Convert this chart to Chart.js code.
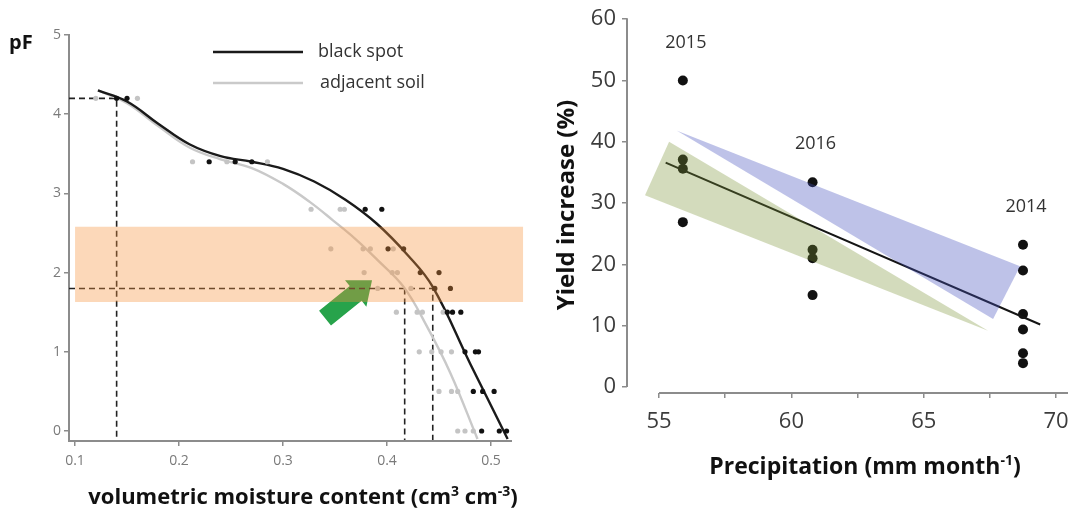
<!DOCTYPE html>
<html>
<head>
<meta charset="utf-8">
<script src="https://cdn.jsdelivr.net/npm/chart.js@4.4.1/dist/chart.umd.min.js"></script>
<style>
  html, body { margin: 0; padding: 0; background: #ffffff; }
  #wrap { position: relative; width: 1075px; height: 515px; overflow: hidden; background: #fff; }
  #retention { position: absolute; left: 0; top: 0; }
  #yield { position: absolute; left: 540px; top: 0; }
</style>
</head>
<body>
<div id="wrap">
  <canvas id="retention" width="540" height="515"></canvas>
  <canvas id="yield" width="535" height="515"></canvas>
</div>
<script>
// ---------- Soil water retention (left panel) ----------
const pfTicks = [0, 1, 2, 3, 4, 5];
const moistureTicks = [0.1, 0.2, 0.3, 0.4, 0.5];

// fitted retention curves (volumetric moisture, pF)
const blackSpotCurveX = [0.122, 0.15, 0.18, 0.21, 0.24, 0.27, 0.30, 0.33, 0.36, 0.39, 0.42, 0.444, 0.48, 0.516];
const blackSpotCurveY = [4.30, 4.16, 3.88, 3.62, 3.47, 3.40, 3.31, 3.15, 2.92, 2.62, 2.22, 1.82, 0.85, -0.10];
const adjacentCurveX  = [0.122, 0.15, 0.18, 0.21, 0.24, 0.27, 0.30, 0.326, 0.348, 0.37, 0.39, 0.416, 0.438, 0.461, 0.487];
const adjacentCurveY  = [4.30, 4.14, 3.85, 3.58, 3.43, 3.32, 3.12, 2.89, 2.66, 2.42, 2.17, 1.82, 1.33, 0.73, -0.10];

// measured samples
const blackSpotDotPF    = [4.2, 4.2, 3.4, 3.4, 3.4, 2.8, 2.8, 2.3, 2.3, 2.0, 2.0, 1.8, 1.8, 1.5, 1.5, 1.5, 1.0, 1.0, 1.0, 0.5, 0.5, 0.5, 0, 0, 0];
const blackSpotDotTheta = [0.14, 0.15, 0.229, 0.254, 0.27, 0.379, 0.395, 0.401, 0.416, 0.432, 0.45, 0.446, 0.461, 0.458, 0.463, 0.471, 0.475, 0.485, 0.488, 0.483, 0.492, 0.503, 0.491, 0.508, 0.515];
const adjacentDotPF     = [4.2, 4.2, 3.4, 3.4, 3.4, 2.8, 2.8, 2.8, 2.3, 2.3, 2.3, 2.3, 2.0, 2.0, 2.0, 1.8, 1.8, 1.5, 1.5, 1.5, 1.5, 1.0, 1.0, 1.0, 1.0, 0.5, 0.5, 0.5, 0, 0, 0];
const adjacentDotTheta  = [0.12, 0.16, 0.213, 0.246, 0.285, 0.327, 0.355, 0.359, 0.346, 0.377, 0.384, 0.406, 0.378, 0.405, 0.41, 0.391, 0.423, 0.409, 0.429, 0.434, 0.454, 0.431, 0.443, 0.452, 0.462, 0.45, 0.462, 0.468, 0.468, 0.475, 0.483];

// reference levels
const wiltingPF = 4.2, wiltingTheta = 0.14;
const fieldCapPF = 1.8, fieldCapThetaAdjacent = 0.417, fieldCapThetaBlack = 0.444;
const bandPF = [1.63, 2.58];          // highlighted pF range
const bandTheta = [0.1, 0.531];
const arrowFrom = [0.3404, 1.425], arrowTo = [0.3856, 1.904];

const thetaMin = 0.0942, thetaMax = 0.5327, thetaAxisEnd = 0.5202;
const pfMin = -0.126, pfMax = 5;

// ---------- Yield vs precipitation (right panel) ----------
const precipTicks = [55, 57.5, 60, 62.5, 65, 67.5, 70];
const yieldTicks = [0, 10, 20, 30, 40, 50, 60];
const years = ['2015', '2016', '2014'];
const precipitation = [55.9, 60.8, 68.75];
const yield2015 = [50.0, 37.1, 35.6, 26.9];
const yield2016 = [33.4, 22.4, 21.0, 15.0];
const yield2014 = [23.2, 19.0, 11.9, 9.4, 5.5, 3.9];
const regressionX = [55.25, 69.4];
const regressionY = [36.6, 10.2];
const greenBandX = [54.47, 55.38, 67.43, 54.47];
const greenBandY = [31.3, 40.0, 9.2, 31.3];
const blueBandX = [55.68, 68.64, 67.62, 55.68];
const blueBandY = [41.8, 19.7, 11.1, 41.8];

const precipMin = 53.79, precipMax = 70.45, precipAxisStart = 55;
const yieldMin = -0.97, yieldMax = 60;

// ---------- helpers ----------
const FONT = "'Open Sans', 'DejaVu Sans', sans-serif";
Chart.defaults.font.family = FONT;
Chart.defaults.animation = false;
const pts = (xs, ys) => xs.map((x, i) => ({ x, y: ys[i] }));

function drawRich(ctx, parts, cx, cy, size, weight, color) {
  const fontOf = sup => `${weight} ${sup ? Math.round(size * 0.62) : size}px ${FONT}`;
  let total = 0;
  parts.forEach(([t, sup]) => { ctx.font = fontOf(sup); total += ctx.measureText(t).width; });
  let x = cx - total / 2;
  ctx.fillStyle = color;
  ctx.textAlign = 'left';
  ctx.textBaseline = 'alphabetic';
  parts.forEach(([t, sup]) => {
    ctx.font = fontOf(sup);
    ctx.fillText(t, x, sup ? cy - size * 0.38 : cy);
    x += ctx.measureText(t).width;
  });
}

// keep the plot area fixed regardless of tick label overhang
const fixSide = (s, h) => { s.height = h; s.paddingLeft = 0; s.paddingRight = 0; };

const hiddenLine = { pointRadius: 0, borderWidth: 0, showLine: true };

// ---------- left chart ----------
const retentionDecor = {
  id: 'retentionDecor',
  beforeDatasetsDraw(chart) {
    const { ctx, scales: { x, y } } = chart;
    // green arrow pointing at the field-capacity region
    const tx = x.getPixelForValue(arrowFrom[0]), ty = y.getPixelForValue(arrowFrom[1]);
    const hx = x.getPixelForValue(arrowTo[0]), hy = y.getPixelForValue(arrowTo[1]);
    const len = Math.hypot(hx - tx, hy - ty);
    const dx = (hx - tx) / len, dy = (hy - ty) / len;
    const nx = -dy, ny = dx;
    const shaft = 9.5, head = 17, headLen = 21;
    const bx = hx - dx * headLen, by = hy - dy * headLen;
    ctx.save();
    ctx.beginPath();
    ctx.moveTo(tx + nx * shaft, ty + ny * shaft);
    ctx.lineTo(bx + nx * shaft, by + ny * shaft);
    ctx.lineTo(bx + nx * head, by + ny * head);
    ctx.lineTo(hx, hy);
    ctx.lineTo(bx - nx * head, by - ny * head);
    ctx.lineTo(bx - nx * shaft, by - ny * shaft);
    ctx.lineTo(tx - nx * shaft, ty - ny * shaft);
    ctx.closePath();
    ctx.fillStyle = '#27a34b';
    ctx.fill();
    ctx.restore();
  },
  afterDraw(chart) {
    const { ctx, scales: { x, y }, chartArea } = chart;
    ctx.save();
    // x axis line
    ctx.strokeStyle = '#8c8c8c';
    ctx.lineWidth = 2;
    ctx.beginPath();
    ctx.moveTo(x.getPixelForValue(thetaMin) - 1, chartArea.bottom);
    ctx.lineTo(x.getPixelForValue(thetaAxisEnd), chartArea.bottom);
    ctx.stroke();
    // legend
    ctx.lineWidth = 2.5;
    ctx.strokeStyle = '#1a1a1a';
    ctx.beginPath(); ctx.moveTo(213, 52); ctx.lineTo(303, 52); ctx.stroke();
    ctx.strokeStyle = '#cacaca';
    ctx.beginPath(); ctx.moveTo(213, 83); ctx.lineTo(303, 83); ctx.stroke();
    ctx.fillStyle = '#333';
    ctx.font = `18px ${FONT}`;
    ctx.textBaseline = 'middle';
    ctx.textAlign = 'left';
    ctx.fillText('black spot', 318, 52);
    ctx.fillText('adjacent soil', 320, 83);
    // axis titles
    ctx.fillStyle = '#111';
    ctx.font = `bold 20px ${FONT}`;
    ctx.fillText('pF', 9, 43);
    drawRich(ctx, [['volumetric moisture content (cm', false], ['3', true], [' cm', false], ['-3', true], [')', false]],
      303, 504, 22, 'bold', '#111');
    ctx.restore();
  }
};

new Chart(document.getElementById('retention'), {
  type: 'line',
  data: {
    datasets: [
      Object.assign({ label: 'band top', data: pts(bandTheta, [bandPF[1], bandPF[1]]), fill: '+1',
        backgroundColor: 'rgba(246,146,61,0.36)', order: -2, clip: false }, hiddenLine),
      Object.assign({ label: 'band bottom', data: pts(bandTheta, [bandPF[0], bandPF[0]]), fill: false,
        order: -1, clip: false }, hiddenLine),
      { label: 'black spot', data: pts(blackSpotCurveX, blackSpotCurveY), borderColor: '#1a1a1a', borderWidth: 2.4,
        pointRadius: 0, tension: 0.4, fill: false, order: 3 },
      { label: 'adjacent soil', data: pts(adjacentCurveX, adjacentCurveY), borderColor: '#c9c9c9', borderWidth: 2.4,
        pointRadius: 0, tension: 0.4, fill: false, order: 4 },
      { label: 'black spot samples', data: pts(blackSpotDotTheta, blackSpotDotPF), showLine: false,
        pointRadius: 2.6, pointBackgroundColor: '#111', pointBorderWidth: 0, order: 1 },
      { label: 'adjacent soil samples', data: pts(adjacentDotTheta, adjacentDotPF), showLine: false,
        pointRadius: 2.6, pointBackgroundColor: '#c4c4c4', pointBorderWidth: 0, order: 2 },
      { label: 'wilting point', data: [{ x: thetaMin, y: wiltingPF }, { x: wiltingTheta, y: wiltingPF }, { x: wiltingTheta, y: pfMin }],
        borderColor: '#222', borderWidth: 1.6, borderDash: [6, 4], pointRadius: 0, fill: false, order: 5, tension: 0 },
      { label: 'field capacity', data: [{ x: thetaMin, y: fieldCapPF }, { x: fieldCapThetaBlack, y: fieldCapPF }, { x: fieldCapThetaBlack, y: pfMin }],
        borderColor: '#222', borderWidth: 1.6, borderDash: [6, 4], pointRadius: 0, fill: false, order: 5, tension: 0 },
      { label: 'field capacity adjacent', data: [{ x: fieldCapThetaAdjacent, y: fieldCapPF }, { x: fieldCapThetaAdjacent, y: pfMin }],
        borderColor: '#222', borderWidth: 1.6, borderDash: [6, 4], pointRadius: 0, fill: false, order: 5, tension: 0 }
    ]
  },
  options: {
    responsive: false,
    animation: false,
    layout: { padding: { left: 0, right: 540 - 525, top: 35, bottom: 0 } },
    plugins: { legend: { display: false }, tooltip: { enabled: false } },
    scales: {
      x: {
        type: 'linear', min: thetaMin, max: thetaMax,
        afterFit: s => fixSide(s, 74),
        afterBuildTicks: s => { s.ticks = moistureTicks.map(v => ({ value: v })); },
        border: { display: false },
        grid: { drawOnChartArea: false, drawTicks: true, tickLength: 5, color: '#8c8c8c', lineWidth: 1.5 },
        ticks: { color: '#7a7a7a', font: { size: 14 }, padding: 7, maxRotation: 0, callback: v => v.toFixed(1) }
      },
      y: {
        type: 'linear', min: pfMin, max: pfMax,
        afterFit: s => { s.width = 69; },
        afterBuildTicks: s => { s.ticks = pfTicks.map(v => ({ value: v })); },
        border: { display: true, color: '#8c8c8c', width: 2 },
        grid: { drawOnChartArea: false, drawTicks: true, tickLength: 5, color: '#8c8c8c', lineWidth: 1.5 },
        ticks: { color: '#7a7a7a', font: { size: 14 }, padding: 3, callback: v => String(v) }
      }
    }
  },
  plugins: [retentionDecor]
});

// ---------- right chart ----------
const yieldDecor = {
  id: 'yieldDecor',
  afterDraw(chart) {
    const { ctx, scales: { x, y }, chartArea } = chart;
    ctx.save();
    ctx.strokeStyle = '#8c8c8c';
    ctx.lineWidth = 2;
    // separated axis spines
    ctx.beginPath();
    ctx.moveTo(chartArea.left, y.getPixelForValue(yieldMax) - 1);
    ctx.lineTo(chartArea.left, y.getPixelForValue(0));
    ctx.stroke();
    ctx.beginPath();
    ctx.moveTo(x.getPixelForValue(precipAxisStart), chartArea.bottom);
    ctx.lineTo(chartArea.right, chartArea.bottom);
    ctx.stroke();
    // year labels above each group
    const groups = [yield2015, yield2016, yield2014];
    ctx.fillStyle = '#333';
    ctx.font = `18px ${FONT}`;
    ctx.textAlign = 'center';
    ctx.textBaseline = 'middle';
    years.forEach((yr, i) => {
      const px = x.getPixelForValue(precipitation[i]) + 3;
      const py = y.getPixelForValue(Math.max(...groups[i])) - 38;
      ctx.fillText(yr, px, py);
    });
    // axis titles
    ctx.save();
    ctx.translate(27, 205);
    ctx.rotate(-Math.PI / 2);
    ctx.font = `bold 24px ${FONT}`;
    ctx.fillStyle = '#111';
    ctx.textAlign = 'center';
    ctx.textBaseline = 'middle';
    ctx.fillText('Yield increase (%)', 0, 0);
    ctx.restore();
    drawRich(ctx, [['Precipitation (mm month', false], ['-1', true], [')', false]], 325, 474, 23, 'bold', '#111');
    ctx.restore();
  }
};

const dotStyle = { showLine: false, pointRadius: 5, pointBackgroundColor: '#111', pointBorderWidth: 0, order: 3 };

new Chart(document.getElementById('yield'), {
  type: 'line',
  data: {
    datasets: [
      Object.assign({ label: 'green range', data: pts(greenBandX, greenBandY), fill: 'shape',
        backgroundColor: 'rgba(121,146,52,0.33)', order: 0, tension: 0 }, hiddenLine),
      Object.assign({ label: 'blue range', data: pts(blueBandX, blueBandY), fill: 'shape',
        backgroundColor: 'rgba(69,81,189,0.35)', order: 1, tension: 0 }, hiddenLine),
      { label: 'regression', data: pts(regressionX, regressionY), borderColor: '#151515', borderWidth: 2,
        pointRadius: 0, fill: false, order: 2, tension: 0 },
      Object.assign({ label: years[0], data: yield2015.map(v => ({ x: precipitation[0], y: v })) }, dotStyle),
      Object.assign({ label: years[1], data: yield2016.map(v => ({ x: precipitation[1], y: v })) }, dotStyle),
      Object.assign({ label: years[2], data: yield2014.map(v => ({ x: precipitation[2], y: v })) }, dotStyle)
    ]
  },
  options: {
    responsive: false,
    animation: false,
    layout: { padding: { left: 0, right: 535 - 528, top: 15, bottom: 0 } },
    plugins: { legend: { display: false }, tooltip: { enabled: false } },
    scales: {
      x: {
        type: 'linear', min: precipMin, max: precipMax,
        afterFit: s => fixSide(s, 122),
        afterBuildTicks: s => { s.ticks = precipTicks.map(v => ({ value: v })); },
        border: { display: false },
        grid: { drawOnChartArea: false, drawTicks: true, tickLength: 5, color: '#8c8c8c', lineWidth: 1.5 },
        ticks: { color: '#3c3c3c', font: { size: 22 }, padding: 11, maxRotation: 0, autoSkip: false,
          callback: v => (v % 5 === 0 ? String(v) : '') }
      },
      y: {
        type: 'linear', min: yieldMin, max: yieldMax,
        afterFit: s => { s.width = 87; },
        afterBuildTicks: s => { s.ticks = yieldTicks.map(v => ({ value: v })); },
        border: { display: false },
        grid: { drawOnChartArea: false, drawTicks: true, tickLength: 5, color: '#8c8c8c', lineWidth: 1.5 },
        ticks: { color: '#3c3c3c', font: { size: 22 }, padding: 6, callback: v => String(v) }
      }
    }
  },
  plugins: [yieldDecor]
});
</script>
</body>
</html>
